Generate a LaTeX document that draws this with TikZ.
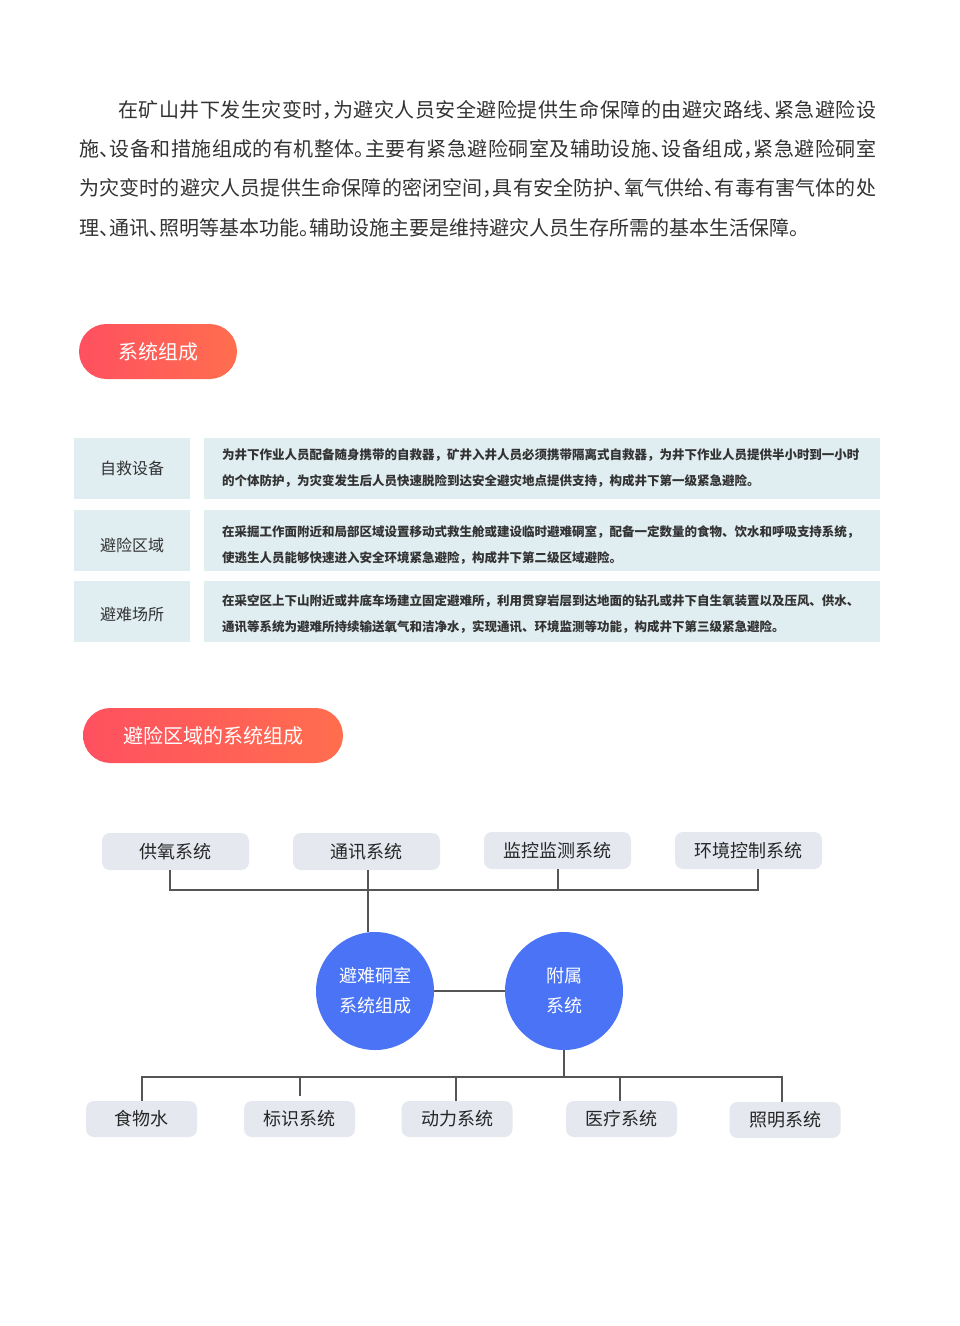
\documentclass[tikz,border=0pt]{standalone}
\usepackage{fontspec}
\setmainfont{Noto Sans CJK SC}
\newfontfamily\cjkhalt[RawFeature={+halt}]{Noto Sans CJK SC}
\usepackage{tikz}
\usepackage{xcolor}
\usetikzlibrary{calc}
\definecolor{cText}{RGB}{51,51,51}
\definecolor{cPillL}{RGB}{255,80,96}
\definecolor{cPillR}{RGB}{255,110,78}
\definecolor{cCell}{RGB}{224,237,241}
\definecolor{cBox}{RGB}{229,232,239}
\definecolor{cHub}{RGB}{74,115,245}
\definecolor{cLine}{RGB}{85,85,85}
\tikzset{
	pill/.style    ={rectangle, rounded corners=27.5pt, minimum height=55pt, left color=cPillL, right color=cPillR, text=white, font=\fontsize{20}{20}\selectfont, inner sep=0pt},
	cellhead/.style={rectangle, fill=cCell, minimum width=116pt, minimum height=61pt, inner sep=0pt},
	headtext/.style={inner sep=0pt, text=cText, font=\fontsize{16}{16}\selectfont},
	cellbody/.style={rectangle, fill=cCell, minimum width=676pt, minimum height=61pt, inner sep=0pt},
	bodytext/.style={text width=640pt, inner sep=0pt, align=left, text=cText, font=\fontsize{12.5}{26}\selectfont\bfseries},
	% diagram styles
	sysbox/.style  ={rectangle, rounded corners=8pt, fill=cBox, minimum width=147pt, minimum height=37pt, text=black!85, font=\fontsize{18}{18}\selectfont},
	subbox/.style  ={sysbox, minimum width=111pt, minimum height=36pt},
	hub/.style     ={circle, fill=cHub, minimum size=118pt, inner sep=0pt, align=center, text=white, font=\fontsize{18}{30}\selectfont},
	bus/.style     ={cLine, line width=2pt},
}

\begin{document}
\begin{tikzpicture}[x=1pt, y=-1pt]
	\useasboundingbox[fill=white] (0,0) rectangle (960,1326);
	\node[anchor=north west, inner sep=0pt, text width=797pt, align=justify, text=cText, font=\cjkhalt\fontsize{20}{39.3}\selectfont] (intro) at (79,100)
		{\XeTeXlinebreaklocale "zh"\XeTeXlinebreakskip=0pt plus 2pt\hspace*{39pt}在矿山井下发生灾变时，为避灾人员安全避险提供生命保障的由避灾路线、紧急避险设\linebreak 施、设备和措施组成的有机整体。主要有紧急避险硐室及辅助设施、设备组成，紧急避险硐室\linebreak 为灾变时的避灾人员提供生命保障的密闭空间，具有安全防护、氧气供给、有毒有害气体的处\linebreak 理、通讯、照明等基本功能。辅助设施主要是维持避灾人员生存所需的基本生活保障。};

	\node[pill, minimum width=158pt] (pillsys) at (158,351.5) {系统组成};

	\node[cellhead, label={[headtext]center:自救设备}] (h1) at (132,468.5) {};
	\node[cellbody, label={[bodytext]center:{为井下作业人员配备随身携带的自救器，矿井入井人员必须携带隔离式自救器，为井下作业人员提供半小时到一小时\\的个体防护，为灾变发生后人员快速脱险到达安全避灾地点提供支持，构成井下第一级紧急避险。}}] (b1) at (542,468.5) {};
	\node[cellhead, label={[headtext, yshift=-4.5pt]center:避险区域}] (h2) at (132,540.5) {};
	\node[cellbody, label={[bodytext, yshift=-4.5pt]center:{在采掘工作面附近和局部区域设置移动式救生舱或建设临时避难硐室，配备一定数量的食物、饮水和呼吸支持系统，\\使逃生人员能够快速进入安全环境紧急避险，构成井下第二级区域避险。}}] (b2) at (542,540.5) {};
	\node[cellhead, label={[headtext, yshift=-3pt]center:避难场所}] (h3) at (132,611.5) {};
	\node[cellbody, label={[bodytext, yshift=-3pt]center:{在采空区上下山附近或井底车场建立固定避难所，利用贯穿岩层到达地面的钻孔或井下自生氧装置以及压风、供水、\\通讯等系统为避难所持续输送氧气和洁净水，实现通讯、环境监测等功能，构成井下第三级紧急避险。}}] (b3) at (542,611.5) {};

	\node[pill, minimum width=260pt] (pillzone) at (213,735.5) {避险区域的系统组成};

	\node[sysbox] (oxy) at (175.5,851.5) {供氧系统};
	\node[sysbox] (com) at (366.5,851.5) {通讯系统};
	\node[sysbox] (mon) at (557.5,850.5) {监控监测系统};
	\node[sysbox] (env) at (748.5,850.5) {环境控制系统};
	\node[hub] (room) at (375,991) {避难硐室\\系统组成};
	\node[hub] (aux) at (564,991) {附属\\系统};
	\node[subbox] (food) at (141.5,1119) {食物水};
	\node[subbox] (sign) at (299.5,1119) {标识系统};
	\node[subbox] (power) at (457,1119) {动力系统};
	\node[subbox] (med) at (621.5,1119) {医疗系统};
	\node[subbox] (light) at (785,1120) {照明系统};

	\coordinate (tbus) at (368,890);
	\coordinate (bbus) at (564,1077);
	\draw[bus] ([xshift=-5.5pt]oxy.south) |- (tbus) -| ([xshift=9.5pt]env.south);
	\draw[bus] ([xshift=0.5pt]mon.south) -- ([xshift=0.5pt]mon.south |- tbus);
	\draw[bus] ([xshift=1.5pt]com.south) -- (tbus) -- (tbus |- room.north);
	\draw[bus] (room) -- (aux);
	\draw[bus] (aux) -- (bbus);
	\draw[bus] (food.north) |- (bbus) -| ([xshift=-3pt]light.north);
	\draw[bus] ([yshift=5pt]sign.north) -- (sign.north |- bbus);
	\draw[bus] ([xshift=-1pt]power.north) -- ([xshift=-1pt]power.north |- bbus);
	\draw[bus] ([xshift=-1.5pt]med.north) -- ([xshift=-1.5pt]med.north |- bbus);
\end{tikzpicture}
\end{document}
